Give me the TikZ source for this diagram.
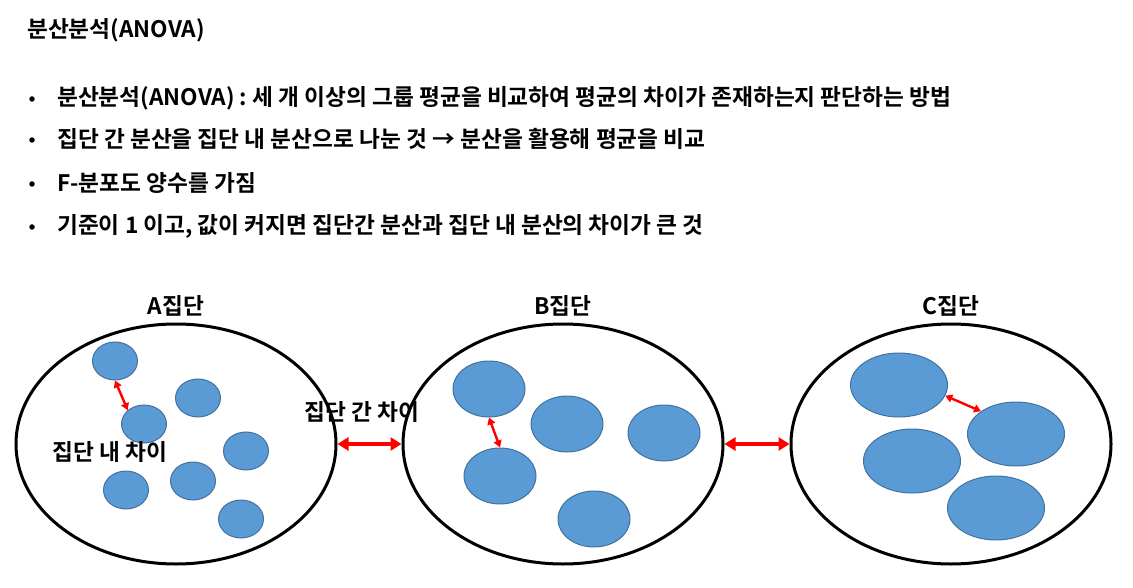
\documentclass[tikz,border=0pt]{standalone}
\usepackage{fontspec}
\setmainfont{Noto Sans CJK KR}[BoldFont={Noto Sans CJK KR Bold}]
\usetikzlibrary{shapes.geometric,arrows.meta}
\definecolor{cfill}{HTML}{5B9BD5}
\definecolor{cline}{HTML}{41719C}
\definecolor{cred}{HTML}{FF0000}
\tikzset{
  txt/.style={font=\bfseries\fontsize{22.7}{26}\selectfont, inner sep=0pt},
  bul/.style={circle, fill=black, inner sep=0pt, minimum size=5.5pt},
  bigell/.style={ellipse, draw=black, line width=3pt, inner sep=0pt, minimum width=320pt, minimum height=240pt},
  dot/.style={ellipse, draw=cline, line width=1pt, fill=cfill, inner sep=0pt},
  redarr/.style={draw=cred, line width=3.6pt, {Triangle[width=13pt,length=11pt]}-{Triangle[width=13pt,length=11pt]}},
  smallarr/.style={draw=cred, line width=2.4pt, {Triangle[width=8pt,length=7pt]}-{Triangle[width=8pt,length=7pt]}},
}
\begin{document}
\begin{tikzpicture}[x=1pt,y=-1pt]
\useasboundingbox (0,0) rectangle (1133,588);
% header text
\node[txt, anchor=west] (title) at (27,30) {분산분석(ANOVA)};
\node[bul] (b1) at (32,99) {};
\node[bul] (b2) at (32,140) {};
\node[bul] (b3) at (32,184) {};
\node[bul] (b4) at (32,227) {};
\node[txt, anchor=west] (l1) at (57,98) {분산분석(ANOVA) : 세 개 이상의 그룹 평균을 비교하여 평균의 차이가 존재하는지 판단하는 방법};
\node[txt, anchor=west] (l2) at (57,139) {집단 간 분산을 집단 내 분산으로 나눈 것 → 분산을 활용해 평균을 비교};
\node[txt, anchor=west] (l3) at (57,183) {F-분포도 양수를 가짐};
\node[txt, anchor=west] (l4) at (57,226) {기준이 1 이고, 값이 커지면 집단간 분산과 집단 내 분산의 차이가 큰 것};
% group labels
\node[txt] (la) at (176,306) {A집단};
\node[txt] (lb) at (563,306) {B집단};
\node[txt] (lc) at (951,306) {C집단};
% big ellipses
\node[bigell] (A) at (176,444) {};
\node[bigell] (B) at (563,444) {};
\node[bigell] (C) at (951,444) {};
% A circles
\node[dot, minimum width=45pt, minimum height=38pt] (a1) at (115,361) {};
\node[dot, minimum width=45pt, minimum height=38pt] (a2) at (198,398) {};
\node[dot, minimum width=45pt, minimum height=38pt] (a3) at (144,424) {};
\node[dot, minimum width=45pt, minimum height=38pt] (a4) at (246,451) {};
\node[dot, minimum width=45pt, minimum height=38pt] (a5) at (193,481) {};
\node[dot, minimum width=45pt, minimum height=38pt] (a6) at (126,490) {};
\node[dot, minimum width=45pt, minimum height=38pt] (a7) at (241,519) {};
% B circles
\node[dot, minimum width=72pt, minimum height=56pt] (bb1) at (489,389) {};
\node[dot, minimum width=72pt, minimum height=56pt] (bb2) at (567,424) {};
\node[dot, minimum width=72pt, minimum height=56pt] (bb3) at (664,433) {};
\node[dot, minimum width=72pt, minimum height=56pt] (bb4) at (500,476) {};
\node[dot, minimum width=72pt, minimum height=56pt] (bb5) at (594,519) {};
% C circles
\node[dot, minimum width=97pt, minimum height=64pt] (c1) at (899,385) {};
\node[dot, minimum width=97pt, minimum height=64pt] (c2) at (1016,434) {};
\node[dot, minimum width=97pt, minimum height=64pt] (c3) at (912,461) {};
\node[dot, minimum width=97pt, minimum height=64pt] (c4) at (996,508) {};
% arrows
\draw[redarr] (A.east) -- (B.west);
\draw[redarr] (B.east) -- (C.west);
\draw[smallarr] (a1.south) -- (a3.north west);
\draw[smallarr] (bb1.south) -- (bb4.north);
\draw[smallarr] (c1.-13) -- (c2.147);
% labels
\node[txt] (within) at (110,452) {집단 내 차이};
\node[txt] (between) at (362,412) {집단 간 차이};
\end{tikzpicture}
\end{document}
